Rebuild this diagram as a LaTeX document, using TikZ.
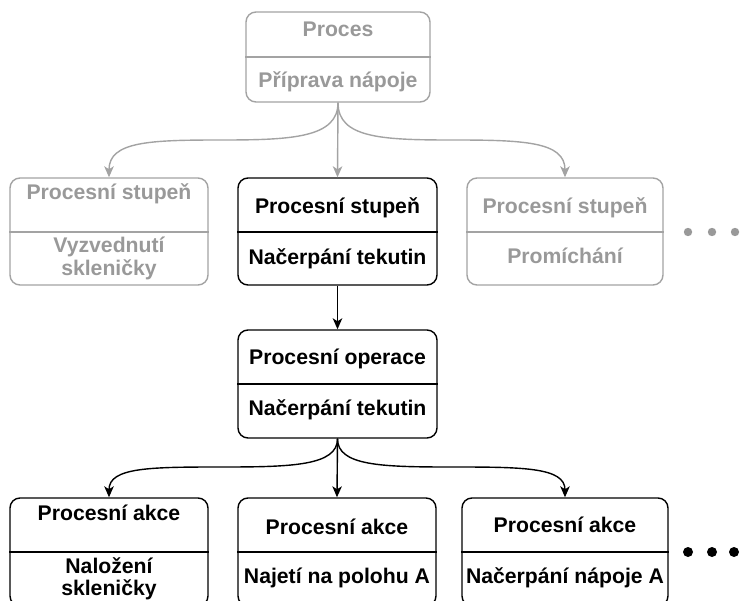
\documentclass[tikz,border=0pt]{standalone}
\usepackage{fontspec}
\setmainfont{Liberation Sans}
\usetikzlibrary{arrows.meta}
\definecolor{dim}{HTML}{999999}
\definecolor{dimline}{HTML}{A3A3A3}
\begin{document}
\begin{tikzpicture}[x=1pt,y=-1pt,
  card/.style={draw, line width=1.4pt, rounded corners=10pt, inner sep=0pt},
  dimcard/.style={card, draw=dimline},
  lbl/.style={anchor=base, font=\fontsize{21.2}{24}\selectfont\bfseries, inner sep=0pt},
  dimlbl/.style={lbl, text=dim},
  link/.style={line width=1.4pt, -{Stealth[length=11pt,width=9.5pt,inset=3pt]}},
  dimlink/.style={link, draw=dimline, -{Stealth[length=11pt,width=9.5pt,inset=3pt,fill=dimline]}}
]
\useasboundingbox (0,0) rectangle (741,601);

% process
\node[dimcard, minimum width=184pt, minimum height=90pt] (proc) at (338,57) {};
\draw[dimline, line width=1.4pt] (proc.west |- 0,57) -- (proc.east |- 0,57);
\node[dimlbl] (procT) at (338,37) {Proces};
\node[dimlbl] (procN) at (338,88) {Příprava nápoje};

% process stages
\node[dimcard, minimum width=198pt, minimum height=107pt] (st1) at (109,231.5) {};
\draw[dimline, line width=1.4pt] (st1.west |- 0,232) -- (st1.east |- 0,232);
\node[dimlbl] (st1T) at (109,200) {Procesní stupeň};
\node[dimlbl] (st1Na) at (109,253) {Vyzvednutí};
\node[dimlbl] (st1Nb) at (109,276) {skleničky};

\node[card, minimum width=199pt, minimum height=107pt] (st2) at (337.5,231.5) {};
\draw[line width=1.4pt] (st2.west |- 0,232) -- (st2.east |- 0,232);
\node[lbl] (st2T) at (337.5,214) {Procesní stupeň};
\node[lbl] (st2N) at (337.5,265) {Načerpání tekutin};

\node[dimcard, minimum width=196pt, minimum height=107pt] (st3) at (565,231.5) {};
\draw[dimline, line width=1.4pt] (st3.west |- 0,232) -- (st3.east |- 0,232);
\node[dimlbl] (st3T) at (565,214) {Procesní stupeň};
\node[dimlbl] (st3N) at (565,264) {Promíchání};

\foreach \x [count=\i] in {688,712,735}
  \fill[dim] (\x,232) circle (4.2pt) coordinate (gdot\i);

% process operation
\node[card, minimum width=199pt, minimum height=108pt] (op) at (337.5,384) {};
\draw[line width=1.4pt] (op.west |- 0,384) -- (op.east |- 0,384);
\node[lbl] (opT) at (337.5,364) {Procesní operace};
\node[lbl] (opN) at (337.5,415) {Načerpání tekutin};

% process actions
\node[card, minimum width=198pt, minimum height=108pt] (ac1) at (109,552) {};
\draw[line width=1.4pt] (ac1.west |- 0,552) -- (ac1.east |- 0,552);
\node[lbl] (ac1T) at (109,520) {Procesní akce};
\node[lbl] (ac1Na) at (109,573) {Naložení};
\node[lbl] (ac1Nb) at (109,595) {skleničky};

\node[card, minimum width=198pt, minimum height=108pt] (ac2) at (337,552) {};
\draw[line width=1.4pt] (ac2.west |- 0,552) -- (ac2.east |- 0,552);
\node[lbl] (ac2T) at (337,534) {Procesní akce};
\node[lbl] (ac2N) at (337,583) {Najetí na polohu A};

\node[card, minimum width=206pt, minimum height=108pt] (ac3) at (565,552) {};
\draw[line width=1.4pt] (ac3.west |- 0,552) -- (ac3.east |- 0,552);
\node[lbl] (ac3T) at (565,532) {Procesní akce};
\node[lbl] (ac3N) at (565,583) {Načerpání nápoje A};

\foreach \x [count=\i] in {688,712,734}
  \fill (\x,552) circle (5pt) coordinate (bdot\i);

% connectors
\coordinate (bendL) at (222,140);
\coordinate (bendR) at (451,140);
\draw[dimlink] (proc.south) .. controls +(0,35) and +(70,0) .. (bendL)
  .. controls +(-72,0) and +(0,-36) .. (st1.north);
\draw[dimlink] (proc.south) -- (st2.north);
\draw[dimlink] (proc.south) .. controls +(0,35) and +(-70,0) .. (bendR)
  .. controls +(72,0) and +(0,-36) .. (st3.north);

\draw[link] (st2.south) -- (op.north);

\coordinate (bendL2) at (222,467);
\coordinate (bendR2) at (451,467);
\draw[link] (op.south) .. controls +(0,27) and +(70,0) .. (bendL2)
  .. controls +(-72,0) and +(0,-30) .. (ac1.north);
\draw[link] (op.south) -- (ac2.north);
\draw[link] (op.south) .. controls +(0,27) and +(-70,0) .. (bendR2)
  .. controls +(72,0) and +(0,-30) .. (ac3.north);
\end{tikzpicture}
\end{document}
